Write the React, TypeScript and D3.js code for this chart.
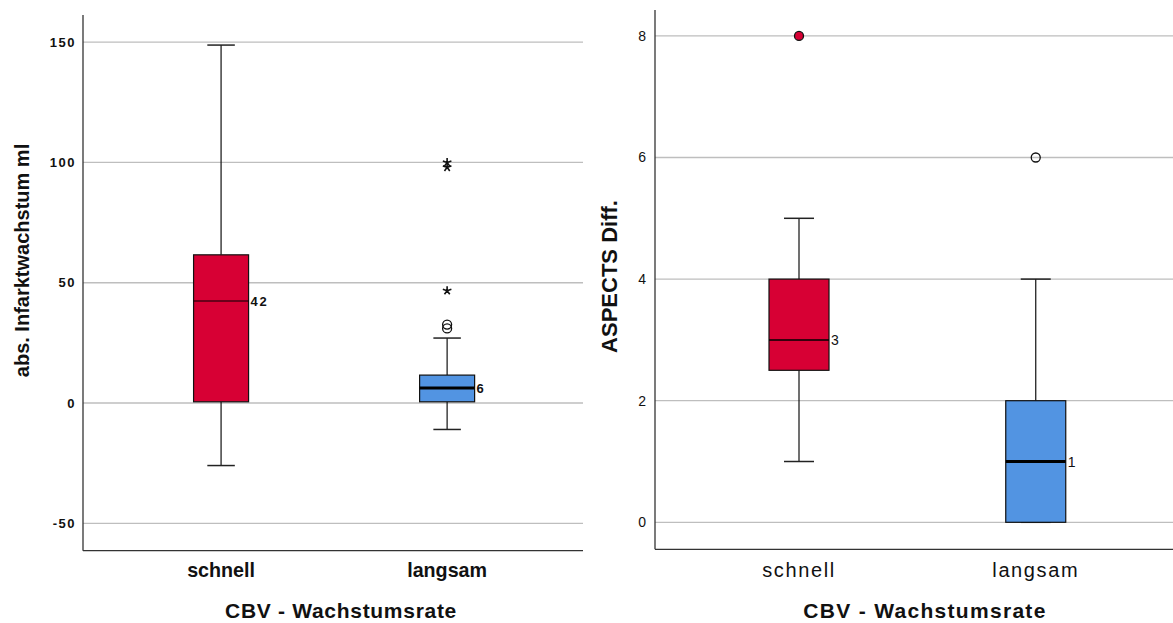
import React from "react";
import * as d3 from "d3";

// ---------- data ----------
const groups = ["schnell", "langsam"];

// Left chart: abs. Infarktwachstum ml
const infarktLow = [-26, -11];
const infarktQ1 = [0.5, 0.5];
const infarktMedian = [42.4, 6.2];
const infarktQ3 = [61.6, 11.6];
const infarktHigh = [148.8, 27];
const infarktOutliers = [[], [32.6, 31.0]];
const infarktExtremes = [[], [100, 98, 46.7]];
const infarktMedianLabels = ["42", "6"];
const infarktTicks = [-50, 0, 50, 100, 150];

// Right chart: ASPECTS Diff.
const aspectsLow = [1, 0];
const aspectsQ1 = [2.5, 0];
const aspectsMedian = [3, 1];
const aspectsQ3 = [4, 2];
const aspectsHigh = [5, 4];
const aspectsOutliers = [[8], [6]];
const aspectsMedianLabels = ["3", "1"];
const aspectsTicks = [0, 2, 4, 6, 8];

const FONT = "'Liberation Sans', Arial, sans-serif";
const RED = "#D70034";
const BLUE = "#5294E2";
const GRID = "#BEBEBE";
const AXIS = "#333";

function asteriskPath(cx: number, cy: number, r: number) {
  let p = "";
  for (let i = 0; i < 5; i++) {
    const a = (-90 + i * 72) * (Math.PI / 180);
    p += `M${cx},${cy}L${cx + r * Math.cos(a)},${cy + r * Math.sin(a)}`;
  }
  return p;
}

type PanelProps = {
  x0: number; x1: number; yTop: number; yBottom: number;
  domain: [number, number];
  ticks: number[];
  low: number[]; q1: number[]; med: number[]; q3: number[]; high: number[];
  outliers: number[][]; extremes?: number[][];
  medLabels: string[];
  boxW: number;
  pad: number; align: number;
  bold: boolean;
  yTitle: string; yTitleX: number; yTitleY: number; yTitleSize: number;
  xTitle: string; xTitleX: number; xTitleSize: number; xTitleLs: number;
  tickEnd: number; tickSize: number; tickLs: number;
  catSize: number; catLs: number; catBold: boolean;
  medLabelSize: number; medLabelLs: number;
  medWidths: number[];
  filledOutlier: boolean[];
};

function Panel(p: PanelProps) {
  const y = d3.scaleLinear().domain(p.domain).range([p.yBottom, p.yTop]);
  const x = d3.scalePoint<string>().domain(groups).range([p.x0, p.x1]).padding(p.pad).align(p.align);
  const colors = [RED, BLUE];
  return (
    <g>
      {p.ticks.map((t) => (
        <line key={"g" + t} x1={p.x0} x2={p.x1} y1={y(t)} y2={y(t)} stroke={GRID} strokeWidth={1.3} />
      ))}
      {p.ticks.map((t) => (
        <text key={"t" + t} x={p.tickEnd} y={y(t)} dy="0.35em" textAnchor="end" fontFamily={FONT}
          fontSize={p.tickSize} fontWeight={p.bold ? "bold" : "normal"} letterSpacing={p.tickLs} fill="#111">
          {t}
        </text>
      ))}
      {groups.map((g, i) => {
        const cx = x(g) as number;
        const hw = p.boxW / 2;
        const cw = p.boxW / 4;
        return (
          <g key={g}>
            <line x1={cx} x2={cx} y1={y(p.q3[i])} y2={y(p.high[i])} stroke="#111" strokeWidth={1.2} />
            <line x1={cx} x2={cx} y1={y(p.q1[i])} y2={y(p.low[i])} stroke="#111" strokeWidth={1.2} />
            <line x1={cx - cw} x2={cx + cw} y1={y(p.high[i])} y2={y(p.high[i])} stroke="#222" strokeWidth={1.5} />
            <line x1={cx - cw} x2={cx + cw} y1={y(p.low[i])} y2={y(p.low[i])} stroke="#222" strokeWidth={1.5} />
            <rect x={cx - hw} y={y(p.q3[i])} width={p.boxW} height={y(p.q1[i]) - y(p.q3[i])}
              fill={colors[i]} stroke="#111" strokeWidth={1.2} />
            <line x1={cx - hw} x2={cx + hw} y1={y(p.med[i])} y2={y(p.med[i])} stroke="#000" strokeWidth={p.medWidths[i]} />
            <text x={cx + hw + 2} y={y(p.med[i])} dy="0.36em" fontFamily={FONT} fontSize={p.medLabelSize}
              fontWeight={p.bold ? "bold" : "normal"} letterSpacing={p.medLabelLs} fill="#111">
              {p.medLabels[i]}
            </text>
            {p.outliers[i].map((v, k) => (
              <circle key={"o" + k} cx={cx} cy={y(v)} r={4.5} fill={p.filledOutlier[i] ? colors[i] : "#fff"}
                fillOpacity={p.filledOutlier[i] ? 1 : 0} stroke="#111" strokeWidth={1.3} />
            ))}
            {(p.extremes ? p.extremes[i] : []).map((v, k) => (
              <path key={"e" + k} d={asteriskPath(cx, y(v), 4.5)} stroke="#111" strokeWidth={1.6} fill="none" />
            ))}
            <text x={cx} y={577} textAnchor="middle" fontFamily={FONT} fontSize={p.catSize}
              fontWeight={p.catBold ? "bold" : "normal"} letterSpacing={p.catLs} fill="#111">
              {g}
            </text>
          </g>
        );
      })}
      <line x1={p.x0} x2={p.x0} y1={p.yTop} y2={p.yBottom} stroke={AXIS} strokeWidth={1.3} />
      <line x1={p.x0} x2={p.x1} y1={p.yBottom} y2={p.yBottom} stroke={AXIS} strokeWidth={1.3} />
      <text transform={`translate(${p.yTitleX},${p.yTitleY}) rotate(-90)`} textAnchor="middle"
        fontFamily={FONT} fontSize={p.yTitleSize} fontWeight="bold" fill="#111">
        {p.yTitle}
      </text>
      <text x={p.xTitleX} y={618} textAnchor="middle" fontFamily={FONT} fontSize={p.xTitleSize}
        fontWeight="bold" letterSpacing={p.xTitleLs} fill="#111">
        {p.xTitle}
      </text>
    </g>
  );
}

export default function App() {
  return (
    <svg width={1173} height={623} style={{ position: "absolute", left: 0, top: 0, background: "#fff" }}>
      <rect width={1173} height={623} fill="#fff" />
      <Panel
        x0={83} x1={583} yTop={15} yBottom={550.7} domain={[-61.4, 161.3]} ticks={infarktTicks}
        low={infarktLow} q1={infarktQ1} med={infarktMedian} q3={infarktQ3} high={infarktHigh}
        outliers={infarktOutliers} extremes={infarktExtremes} medLabels={infarktMedianLabels}
        boxW={55} pad={0.606} align={0.504} bold={true}
        yTitle="abs. Infarktwachstum ml" yTitleX={29} yTitleY={260.5} yTitleSize={20}
        xTitle="CBV - Wachstumsrate" xTitleX={341} xTitleSize={21} xTitleLs={0.7}
        tickEnd={76} tickSize={13} tickLs={1.5}
        catSize={19.7} catLs={0} catBold={true}
        medLabelSize={13} medLabelLs={1.8}
        medWidths={[1.2, 3]} filledOutlier={[false, false]}
      />
      <Panel
        x0={655} x1={1173} yTop={10} yBottom={549.3} domain={[-0.444, 8.426]} ticks={aspectsTicks}
        low={aspectsLow} q1={aspectsQ1} med={aspectsMedian} q3={aspectsQ3} high={aspectsHigh}
        outliers={aspectsOutliers} medLabels={aspectsMedianLabels}
        boxW={60} pad={0.594} align={0.512} bold={false}
        yTitle="ASPECTS Diff." yTitleX={617} yTitleY={276.5} yTitleSize={22}
        xTitle="CBV - Wachstumsrate" xTitleX={925} xTitleSize={21} xTitleLs={1.3}
        tickEnd={646} tickSize={14} tickLs={0}
        catSize={20} catLs={1.6} catBold={false}
        medLabelSize={14} medLabelLs={0}
        medWidths={[1.5, 3]} filledOutlier={[true, false]}
      />
    </svg>
  );
}
